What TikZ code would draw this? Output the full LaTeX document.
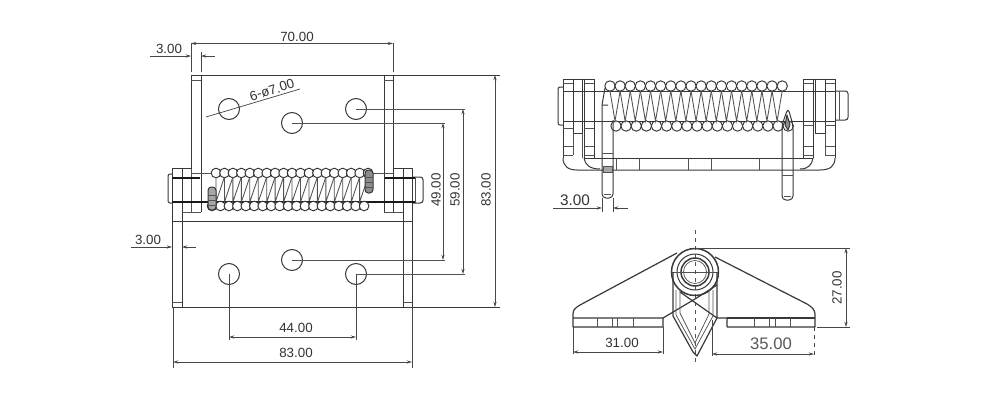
\documentclass[tikz,border=0pt]{standalone}
\usepackage{fontspec}
\setmainfont{Liberation Sans}
\usetikzlibrary{arrows.meta}
\tikzset{
 part/.style={draw=black!78,line width=0.75pt,line join=round},
 heavy/.style={draw=black!90,line width=1.2pt},
 thin part/.style={draw=black!68,line width=0.55pt},
 dimline/.style={draw=black!72,line width=0.55pt},
 dimarrow/.style={dimline,{Stealth[length=4pt,width=2.4pt]}-{Stealth[length=4pt,width=2.4pt]}},
 oneway/.style={dimline,-{Stealth[length=4pt,width=2.4pt]}},
 label/.style={text=black!80,font=\fontsize{10}{12}\selectfont,inner sep=0pt},
 big label/.style={text=black!65,font=\fontsize{12.5}{14}\selectfont,inner sep=0pt},
 coil/.style={draw=black!80,line width=0.7pt,fill=white}
}
\begin{document}
\begin{tikzpicture}[x=0.75pt,y=-0.75pt]
\useasboundingbox (0,0) rectangle (1000,400);
\fill[white] (0,0) rectangle (1000,400);

% ------ front view: plates
\draw[part] (191,168) -- (191,75) (201,212) -- (201,75);
\draw[part] (384,212) -- (384,75) (393,212) -- (393,75);
\draw[thin part] (191,80) -- (201,80) (384,80) -- (393,80);
\draw[part] (172,168) -- (172,307) (182,168) -- (182,307);
\draw[part] (403,168) -- (403,307) (412,168) -- (412,307);
\draw[thin part] (172,302) -- (182,302) (403,302) -- (412,302);
\draw[part] (172,221) -- (412,221);
\draw[thin part] (182,212) -- (201,212) (384,212) -- (403,212);
\draw[thin part] (191,168) -- (191,212);
\foreach \p in {(229,109),(292,123),(356,109),(229,274),(292,260),(356,274)}
  \draw[part] \p circle (10.5);

% ------ front view: knuckles and pin
\draw[part] (172,168) -- (192,168) (393,168) -- (412,168);
\draw[part,rounded corners=1.5pt] (172,174) -- (168,174) -- (168,203) -- (172,203);
\draw[part,rounded corners=2pt] (412,177) -- (423,177) -- (423,203) -- (412,203);
\draw[thin part] (415,177) -- (415,203);
\draw[thin part] (191,173) -- (393,173);
\draw[heavy] (172,178) -- (200,178) (385,178) -- (415,178);
\draw[heavy] (172,202) -- (415,202);

% ------ front view: spring
\foreach \i in {0,...,18}{
  \pgfmathsetmacro{\xt}{216+8.45*\i}
  \pgfmathsetmacro{\xb}{212+8.45*\i}
  \draw[coil] (\xt,173) circle (4.8);
  \draw[coil] (\xb,206) circle (4.8);
}
\foreach \i in {0,...,17}{
  \pgfmathsetmacro{\xt}{216+8.45*\i}
  \pgfmathsetmacro{\xb}{212+8.45*\i}
  \pgfmathsetmacro{\xn}{216+8.45*(\i+1)}
  \draw[thin part,line width=0.65pt] (\xt,177) -- (\xb+4,202) -- (\xn,177);
}
\draw[part,fill=black!35,rounded corners=2.5pt] (208,187) rectangle (216,210);
\draw[thin part] (208,195) -- (216,195) (208,200) -- (216,200) (208,205) -- (216,205);
\draw[part,fill=black!45,rounded corners=2.5pt] (365,170) rectangle (373,193);
\draw[thin part] (365,177) -- (373,177) (365,182) -- (373,182) (365,187) -- (373,187);

% ------ front view: dimensions
\draw[dimline] (191,43) -- (191,72) (393,43) -- (393,72);
\draw[dimarrow] (191,43.5) -- (393,43.5);
\node[label] (d70) at (297,37) {70.00};
\draw[dimline] (201,52) -- (201,72);
\draw[dimline] (150,56) -- (182,56) (210,56) -- (215,56);
\draw[oneway] (182,56) -- (191,56);
\draw[oneway] (210,56) -- (201,56);
\node[label] (d3a) at (169,49) {3.00};
\draw[dimline] (206,117) -- (300,89);
\node[label,rotate=17] (dia) at (272,90) {6-ø7.00};
\draw[part] (191,75) -- (500,75);
\draw[part] (172,307) -- (500,307);
\draw[dimarrow] (495,75) -- (495,307);
\node[label,rotate=90] (d83b) at (486,190) {83.00};
\draw[thin part] (356,109) -- (465,109);
\draw[thin part] (292,123) -- (445,123);
\draw[thin part] (292,260) -- (445,260);
\draw[thin part] (356,274) -- (465,274);
\draw[dimarrow] (443,123) -- (443,260);
\draw[dimarrow] (463,109) -- (463,274);
\node[label,rotate=90] (d49) at (436,190) {49.00};
\node[label,rotate=90] (d59) at (455,190) {59.00};
\draw[dimline] (229,274) -- (229,340) (356,274) -- (356,340);
\draw[dimarrow] (229,337) -- (356,337);
\node[label] (d44) at (296,328) {44.00};
\draw[dimline] (173,307) -- (173,368) (412,307) -- (412,368);
\draw[dimarrow] (173,362) -- (412,362);
\node[label] (d83a) at (296,353) {83.00};
\draw[dimline] (131,247) -- (163,247) (191,247) -- (196,247);
\draw[oneway] (163,247) -- (172,247);
\draw[oneway] (191,247) -- (182,247);
\node[label] (d3b) at (148,240) {3.00};

% ------ side view
% left knuckle
\draw[part] (563,158) -- (563,79) -- (594,79) -- (594,158);
\draw[thin part] (563,83) -- (573,83) (584,83) -- (594,83);
\draw[part,rounded corners=1.5pt] (563,87) -- (558,87) -- (558,125) -- (563,125);
\draw[part] (573,79) -- (573,133) -- (582,133) -- (582,79);
\draw[part] (584,79) -- (584,158);
\draw[thin part] (563,128) -- (573,128) (584,128) -- (594,128);
\draw[thin part] (563,146) -- (573,146) (584,146) -- (594,146);
\draw[thin part] (563,155) -- (573,155) (584,155) -- (594,155);
\draw[thin part] (573,133) -- (573,155) (582,133) -- (582,158);
% right knuckle
\draw[part] (803,158) -- (803,79) -- (835,79) -- (835,158);
\draw[thin part] (803,83) -- (813,83) (825,83) -- (835,83);
\draw[part] (813,79) -- (813,158);
\draw[part] (815,79) -- (815,133) -- (825,133) -- (825,79);
\draw[thin part] (803,125) -- (813,125) (825,125) -- (835,125);
\draw[thin part] (803,146) -- (813,146) (825,146) -- (835,146);
\draw[thin part] (803,155) -- (813,155) (825,155) -- (835,155);
\draw[thin part] (825,133) -- (825,155);
\draw[part,rounded corners=2pt] (835,91) -- (848,91) -- (848,120) -- (835,120);
\draw[thin part] (839,91) -- (839,120);
\draw[part] (563,91) -- (835,91);
\draw[part] (563,121) -- (835,121);
% base
\draw[part] (563,158) .. controls (563,166) and (568,170) .. (577,170) -- (820,170) .. controls (830,170) and (835,166) .. (835,158);
\draw[part] (584,158) .. controls (585,165) and (590,169) .. (600,169);
\draw[part] (813,158) .. controls (812,165) and (808,169) .. (800,169);
\draw[part] (584,158) -- (813,158);
\foreach \x in {616,639,688,711,759} \draw[thin part] (\x,158) -- (\x,170);
% spring
\foreach \i in {0,...,17}{
  \pgfmathsetmacro{\xt}{610+10.13*\i}
  \pgfmathsetmacro{\xb}{616+10.13*\i}
  \draw[coil] (\xt,86) circle (5.2);
  \draw[coil] (\xb,126) circle (5.2);
}
\foreach \i in {0,...,16}{
  \pgfmathsetmacro{\xt}{610+10.13*\i}
  \pgfmathsetmacro{\xb}{616+10.13*\i}
  \pgfmathsetmacro{\xn}{610+10.13*(\i+1)}
  \draw[thin part,line width=0.65pt] (\xt,91) -- (\xb-1,121) -- (\xn,91);
}
% levers
\draw[part,rounded corners=3pt] (602,105) -- (602,198) -- (613,198) -- (613,120);
\draw[part] (602,105) -- (605,88) (602,105) -- (608,105);
\draw[thin part] (602,153) -- (613,153);
\draw[thin part,fill=black!35] (603,166) rectangle (612,172);
\draw[thin part] (604,194) -- (611,194);
\draw[part,rounded corners=3pt] (782,125) -- (782,200) -- (793,200) -- (793,125) -- (788,108) -- cycle;
\draw[thin part] (782,175) -- (793,175);
\draw[thin part] (784,196) -- (791,196);
\draw[part,fill=black!45] (785,125) -- (787,115) -- (790,125) -- (788,130) -- cycle;
% 3.00
\draw[dimline] (602,198) -- (602,212) (613,198) -- (613,212);
\draw[dimline] (553,208) -- (594,208) (621,208) -- (628,208);
\draw[oneway] (594,208) -- (602,208);
\draw[oneway] (621,208) -- (613,208);
\node[label,font=\fontsize{11.5}{14}\selectfont] (d3c) at (575,200) {3.00};

% ------ end view
\draw[thin part,dashed] (695,230) -- (695,365);
\draw[part,line width=1.1pt] (695,272) circle (23.5);
\draw[part] (695,272) circle (18);
\draw[part,line width=1.1pt] (695,272) circle (14);
\draw[thin part] (695,272) circle (11.5);
\draw[thin part] (672,272) -- (718,272);
\draw[part,line width=0.9pt] (677,253) -- (580,305) .. controls (575,308) and (573,310) .. (573,314) -- (573,327) -- (663,327) -- (663,318) -- (573,318);
\draw[part,line width=0.9pt] (663,318) -- (695,299) -- (717,285);
\draw[part,line width=0.9pt] (680,292) -- (717,318) -- (727,318) -- (727,327);
\draw[part,line width=0.9pt] (715,257) -- (807,304) .. controls (812,307) and (815,310) .. (815,314) -- (815,327) -- (727,327);
\draw[part,line width=0.9pt] (727,318) -- (815,318);
\foreach \x in {597,612,617,633,754,769,775,790} \draw[thin part] (\x,318) -- (\x,327);
\draw[part,line width=0.9pt] (673,272) -- (673,316) -- (693,352) -- (697,356) -- (717,318) -- (717,272);
\draw[thin part] (676,290) -- (676,315) -- (695,349) -- (713,316) -- (713,290);
\draw[thin part] (680,290) -- (680,313) -- (695,343) -- (709,314) -- (709,290);
\draw[dimline] (695,248) -- (850,248);
\draw[dimline] (817,327) -- (850,327);
\draw[dimarrow] (846,248) -- (846,327);
\node[label,rotate=90] (d27) at (837,288) {27.00};
\draw[dimline] (573,327) -- (573,354) (663,327) -- (663,354);
\draw[dimarrow] (573,352) -- (663,352);
\node[label] (d31) at (622,343) {31.00};
\draw[dimline] (712,320) -- (712,356);
\draw[dimline,dashed] (814,327) -- (814,356);
\draw[dimarrow] (712,354) -- (814,354);
\node[big label] (d35) at (771,344) {35.00};
\end{tikzpicture}
\end{document}
